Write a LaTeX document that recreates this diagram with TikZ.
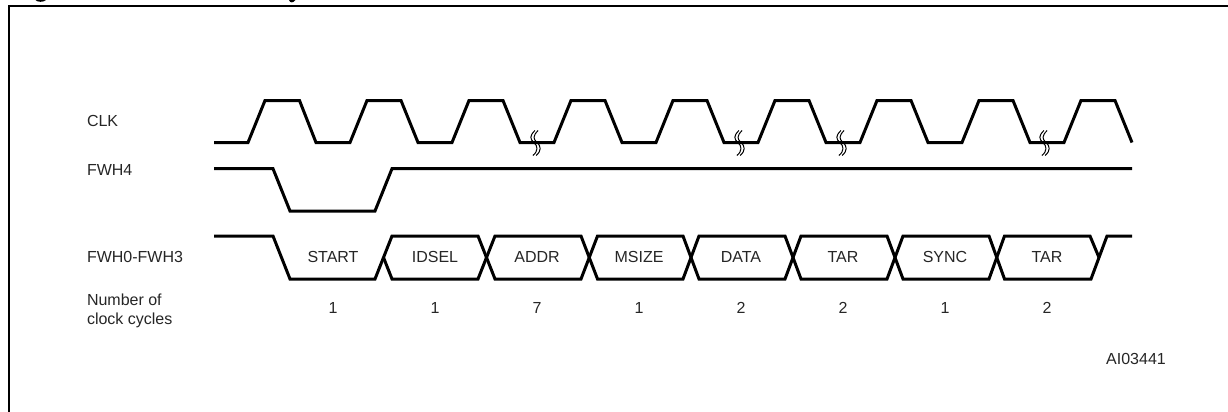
\documentclass[tikz,border=0pt]{standalone}
\usepackage{fontspec}
\setmainfont{Liberation Sans}
\tikzset{
  wave/.style={line width=3pt,line join=miter,line cap=butt,black},
  framer/.style={line width=2pt,black},
  breakmark/.style={line width=1pt,black},
  lbl/.style={inner sep=0pt,outer sep=0pt,text=black!85,font=\fontsize{16}{19}\selectfont,anchor=base},
  siglbl/.style={lbl,anchor=base west,align=left},
}
\begin{document}
\begin{tikzpicture}[x=1pt,y=-1pt]
\useasboundingbox (0,0) rectangle (1228,412);
\fill[white] (0,0) rectangle (1228,412);
% clipped remains of the title
\fill[black] (35.5,0) .. controls (37,2.4) and (44,2.4) .. (46,0) -- cycle;
\fill[black] (289,0) .. controls (290,3) and (293,3.4) .. (295.5,0) -- cycle;
% frame
\draw[framer] (9,412) -- (9,6.5) -- (1228,6.5);
% CLK
\draw[wave] (214,142.5) -- (248,142.5)
  -- (265,100.5) -- (299.5,100.5) -- (316,142.5) -- (350,142.5)
  -- (367,100.5) -- (401,100.5) -- (418,142.5) -- (452,142.5)
  -- (469,100.5) -- (503,100.5) -- (520,142.5) -- (554,142.5)
  -- (571,100.5) -- (605,100.5) -- (622,142.5) -- (656,142.5)
  -- (673,100.5) -- (707,100.5) -- (724,142.5) -- (758,142.5)
  -- (775,100.5) -- (809,100.5) -- (826,142.5) -- (860,142.5)
  -- (877,100.5) -- (911,100.5) -- (928,142.5) -- (962,142.5)
  -- (979,100.5) -- (1013,100.5) -- (1030,142.5) -- (1064,142.5)
  -- (1081,100.5) -- (1115,100.5) -- (1132,142.5);
% break marks
\foreach \bx in {536,740,842,1045}{
  \foreach \off in {-1.6,1.6}{
    \begin{scope}[xshift=\bx pt+\off pt]
    \draw[breakmark] (0.5,130.5) .. controls (-5,136) and (-4.5,139) .. (-0.5,142.5)
       .. controls (3.5,146) and (4,151) .. (-1.5,155.5);
    \end{scope}
  }
}
% FWH4
\draw[wave] (214,168.7) -- (273,168.7) -- (290,211) -- (375,211) -- (392,168.7) -- (1132,168.7);
% FWH0-FWH3
\draw[wave] (214,236) -- (273,236) -- (290,279) -- (375,279) -- (392,236) -- (478,236) -- (495,279) -- (581,279)
  -- (597.5,236) -- (683,236) -- (699,279) -- (785,279) -- (801,236) -- (887,236) -- (903,279) -- (989,279) -- (1004.5,236)
  -- (1090,236) -- (1099,257.5);
\draw[wave] (1132,236) -- (1107,236) -- (1091,279) -- (1004.5,279) -- (989,236) -- (903,236) -- (887,279) -- (801,279)
  -- (785,236) -- (699,236) -- (683,279) -- (597.5,279) -- (581,236) -- (495,236) -- (478,279) -- (392,279) -- (383.5,257.5);
% signal names
\node[siglbl] (sclk) at (87,126.3) {CLK};
\node[siglbl] (sfour) at (87,175.3) {FWH4};
\node[siglbl] (sbus) at (87,262.3) {FWH0-FWH3};
\node[siglbl] (scyc) at (87,324.3) {Number of\\clock cycles};
% fields
\node[lbl] (fa) at (333,262) {START};
\node[lbl] (fb) at (435,262) {IDSEL};
\node[lbl] (fc) at (537,262) {ADDR};
\node[lbl] (fd) at (639,262) {MSIZE};
\node[lbl] (fe) at (741,262) {DATA};
\node[lbl] (ff) at (843,262) {TAR};
\node[lbl] (fg) at (945,262) {SYNC};
\node[lbl] (fh) at (1047,262) {TAR};
% counts
\node[lbl] (na) at (333,313.5) {1};
\node[lbl] (nb) at (435,313.5) {1};
\node[lbl] (nc) at (537,313.5) {7};
\node[lbl] (nd) at (639,313.5) {1};
\node[lbl] (ne) at (741,313.5) {2};
\node[lbl] (nf) at (843,313.5) {2};
\node[lbl] (ng) at (945,313.5) {1};
\node[lbl] (nh) at (1047,313.5) {2};
\node[lbl] (ref) at (1136,364.5) {AI03441};
\end{tikzpicture}
\end{document}
